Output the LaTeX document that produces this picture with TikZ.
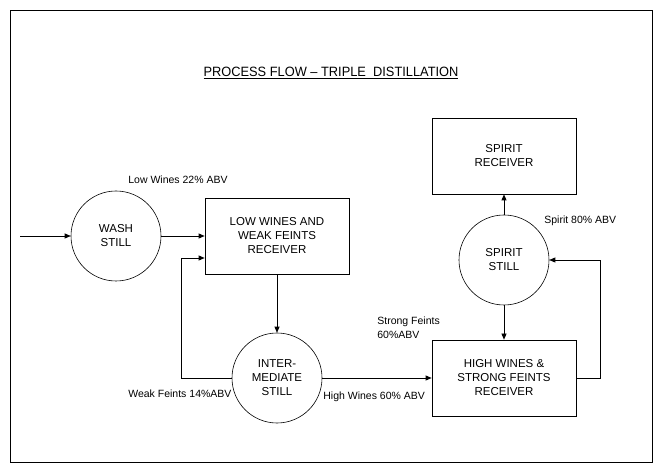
\documentclass[tikz,border=0pt]{standalone}
\usepackage{fontspec}
\setmainfont{Liberation Sans}
\usetikzlibrary{arrows.meta}
\begin{document}
\begin{tikzpicture}[x=1pt,y=-1pt,
  line width=0.7pt,
  still/.style={draw, line width=0.6pt, circle, minimum size=90pt, inner sep=0pt, align=center,
     font=\fontsize{11.5}{14}\selectfont},
  rcv/.style={draw, line width=0.7pt, rectangle, minimum width=144pt, minimum height=76pt, inner sep=0pt, align=center,
     font=\fontsize{11.5}{14}\selectfont},
  lbl/.style={anchor=west, inner sep=0pt, align=left, font=\fontsize{10.5}{14}\selectfont},
  arr/.style={-{Triangle[length=6pt,width=5pt]}}
]
\useasboundingbox (0,0) rectangle (662,473);
\draw[line width=0.8pt] (10,10) rectangle (652,462);
\node[font=\fontsize{13.5}{16}\selectfont] (title) at (331,73) {\scalebox{0.95}[1]{\underline{PROCESS FLOW – TRIPLE\ \ DISTILLATION}}};

\node[still] (wash) at (116,236) {WASH\\STILL};
\node[rcv] (lw) at (277,236) {LOW WINES AND\\WEAK FEINTS\\RECEIVER};
\node[still] (ims) at (277,378) {INTER-\\MEDIATE\\STILL};
\node[rcv] (hw) at (504,378) {HIGH WINES \&\\STRONG FEINTS\\RECEIVER};
\node[still] (ss) at (504,260) {SPIRIT\\STILL};
\node[rcv] (sr) at (504,156) {SPIRIT\\RECEIVER};

\coordinate (in) at (20,236);
\coordinate (wfc) at (181,258);

\draw[arr] (in) -- (wash);
\draw[arr] (wash) -- (lw);
\draw[arr] (lw) -- (ims);
\draw[arr] (ims.west) -| (wfc) -- (wfc -| lw.west);
\draw[arr] (ims) -- (hw);
\draw[arr] (ss) -- (hw);
\draw[arr] (hw.east) -- ++(24,0) |- (ss.east);
\draw[arr] (ss) -- (sr);

\node[lbl] (l1) at (128,180) {Low Wines 22\% ABV};
\node[lbl] (l2) at (128,394) {Weak Feints 14\%ABV};
\node[lbl] (l3) at (323,397) {High Wines 60\% ABV};
\node[lbl] (l4) at (377,328) {Strong Feints\\60\%ABV};
\node[lbl] (l5) at (544,221) {Spirit 80\% ABV};
\end{tikzpicture}
\end{document}
